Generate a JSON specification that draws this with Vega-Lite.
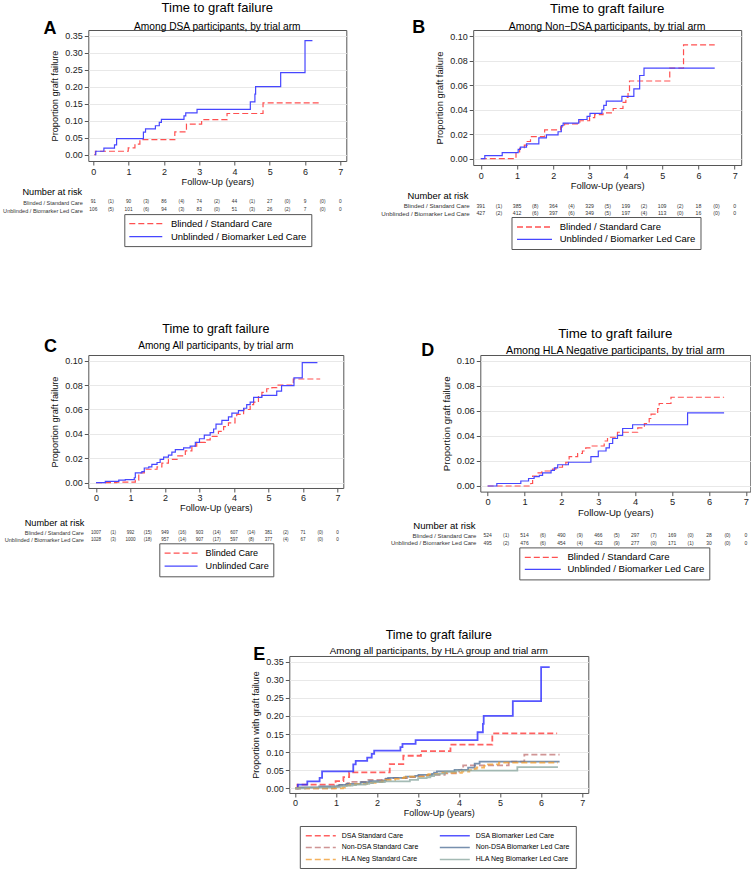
{
"$schema":"https://vega.github.io/schema/vega-lite/v6.json",
"padding":{"left":2.3,"top":1,"right":0,"bottom":0},
"background":"white",
"config":{"font":"Liberation Sans","view":{"stroke":"#555","strokeWidth":1},
"axis":{"labelColor":"#222","titleColor":"#111","titleFontWeight":"normal","tickColor":"#555","gridColor":"#e8e8e8","labelFont":"Liberation Sans","titleFont":"Liberation Sans","labelOverlap":false,"labelFlush":false},
"title":{"fontWeight":"normal","color":"#000","subtitleColor":"#000","font":"Liberation Sans","subtitleFont":"Liberation Sans"},
"legend":{"labelFont":"Liberation Sans","labelColor":"#000","labelLimit":400}},
"datasets":{
"dsa":[
{"arm":"Blinded / Standard Care","curve":"DSA Standard Care","t":0.03,"p":0},
{"arm":"Blinded / Standard Care","curve":"DSA Standard Care","t":0.06,"p":0.01},
{"arm":"Blinded / Standard Care","curve":"DSA Standard Care","t":0.99,"p":0.02},
{"arm":"Blinded / Standard Care","curve":"DSA Standard Care","t":1.18,"p":0.031},
{"arm":"Blinded / Standard Care","curve":"DSA Standard Care","t":1.32,"p":0.044},
{"arm":"Blinded / Standard Care","curve":"DSA Standard Care","t":2.31,"p":0.067},
{"arm":"Blinded / Standard Care","curve":"DSA Standard Care","t":2.64,"p":0.09},
{"arm":"Blinded / Standard Care","curve":"DSA Standard Care","t":3.07,"p":0.103},
{"arm":"Blinded / Standard Care","curve":"DSA Standard Care","t":3.79,"p":0.121},
{"arm":"Blinded / Standard Care","curve":"DSA Standard Care","t":4.81,"p":0.152},
{"arm":"Blinded / Standard Care","curve":"DSA Standard Care","t":6.39,"p":0.152},
{"arm":"Unblinded / Biomarker Led Care","curve":"DSA Biomarker Led Care","t":0.04,"p":0},
{"arm":"Unblinded / Biomarker Led Care","curve":"DSA Biomarker Led Care","t":0.07,"p":0.01},
{"arm":"Unblinded / Biomarker Led Care","curve":"DSA Biomarker Led Care","t":0.3,"p":0.019},
{"arm":"Unblinded / Biomarker Led Care","curve":"DSA Biomarker Led Care","t":0.6,"p":0.029},
{"arm":"Unblinded / Biomarker Led Care","curve":"DSA Biomarker Led Care","t":0.66,"p":0.047},
{"arm":"Unblinded / Biomarker Led Care","curve":"DSA Biomarker Led Care","t":1.42,"p":0.066},
{"arm":"Unblinded / Biomarker Led Care","curve":"DSA Biomarker Led Care","t":1.48,"p":0.076},
{"arm":"Unblinded / Biomarker Led Care","curve":"DSA Biomarker Led Care","t":1.76,"p":0.085},
{"arm":"Unblinded / Biomarker Led Care","curve":"DSA Biomarker Led Care","t":1.87,"p":0.095},
{"arm":"Unblinded / Biomarker Led Care","curve":"DSA Biomarker Led Care","t":1.93,"p":0.104},
{"arm":"Unblinded / Biomarker Led Care","curve":"DSA Biomarker Led Care","t":2.57,"p":0.114},
{"arm":"Unblinded / Biomarker Led Care","curve":"DSA Biomarker Led Care","t":2.62,"p":0.123},
{"arm":"Unblinded / Biomarker Led Care","curve":"DSA Biomarker Led Care","t":2.94,"p":0.133},
{"arm":"Unblinded / Biomarker Led Care","curve":"DSA Biomarker Led Care","t":4.45,"p":0.155},
{"arm":"Unblinded / Biomarker Led Care","curve":"DSA Biomarker Led Care","t":4.58,"p":0.178},
{"arm":"Unblinded / Biomarker Led Care","curve":"DSA Biomarker Led Care","t":4.6,"p":0.2},
{"arm":"Unblinded / Biomarker Led Care","curve":"DSA Biomarker Led Care","t":5.31,"p":0.241},
{"arm":"Unblinded / Biomarker Led Care","curve":"DSA Biomarker Led Care","t":6.0,"p":0.335},
{"arm":"Unblinded / Biomarker Led Care","curve":"DSA Biomarker Led Care","t":6.21,"p":0.335}],
"nondsa":[
{"arm":"Blinded / Standard Care","curve":"Non-DSA Standard Care","t":0,"p":0},
{"arm":"Blinded / Standard Care","curve":"Non-DSA Standard Care","t":0.97,"p":0.005},
{"arm":"Blinded / Standard Care","curve":"Non-DSA Standard Care","t":1.07,"p":0.0085},
{"arm":"Blinded / Standard Care","curve":"Non-DSA Standard Care","t":1.2,"p":0.011},
{"arm":"Blinded / Standard Care","curve":"Non-DSA Standard Care","t":1.28,"p":0.014},
{"arm":"Blinded / Standard Care","curve":"Non-DSA Standard Care","t":1.37,"p":0.018},
{"arm":"Blinded / Standard Care","curve":"Non-DSA Standard Care","t":1.76,"p":0.0235},
{"arm":"Blinded / Standard Care","curve":"Non-DSA Standard Care","t":2.2,"p":0.026},
{"arm":"Blinded / Standard Care","curve":"Non-DSA Standard Care","t":2.31,"p":0.0285},
{"arm":"Blinded / Standard Care","curve":"Non-DSA Standard Care","t":2.73,"p":0.031},
{"arm":"Blinded / Standard Care","curve":"Non-DSA Standard Care","t":3.0,"p":0.0335},
{"arm":"Blinded / Standard Care","curve":"Non-DSA Standard Care","t":3.14,"p":0.036},
{"arm":"Blinded / Standard Care","curve":"Non-DSA Standard Care","t":3.37,"p":0.0375},
{"arm":"Blinded / Standard Care","curve":"Non-DSA Standard Care","t":3.65,"p":0.041},
{"arm":"Blinded / Standard Care","curve":"Non-DSA Standard Care","t":3.92,"p":0.046},
{"arm":"Blinded / Standard Care","curve":"Non-DSA Standard Care","t":4.0,"p":0.05},
{"arm":"Blinded / Standard Care","curve":"Non-DSA Standard Care","t":4.06,"p":0.055},
{"arm":"Blinded / Standard Care","curve":"Non-DSA Standard Care","t":4.1,"p":0.0635},
{"arm":"Blinded / Standard Care","curve":"Non-DSA Standard Care","t":5.21,"p":0.074},
{"arm":"Blinded / Standard Care","curve":"Non-DSA Standard Care","t":5.59,"p":0.093},
{"arm":"Blinded / Standard Care","curve":"Non-DSA Standard Care","t":6.45,"p":0.093},
{"arm":"Unblinded / Biomarker Led Care","curve":"Non-DSA Biomarker Led Care","t":0,"p":0},
{"arm":"Unblinded / Biomarker Led Care","curve":"Non-DSA Biomarker Led Care","t":0.11,"p":0.0025},
{"arm":"Unblinded / Biomarker Led Care","curve":"Non-DSA Biomarker Led Care","t":0.59,"p":0.005},
{"arm":"Unblinded / Biomarker Led Care","curve":"Non-DSA Biomarker Led Care","t":1.03,"p":0.0075},
{"arm":"Unblinded / Biomarker Led Care","curve":"Non-DSA Biomarker Led Care","t":1.09,"p":0.0095},
{"arm":"Unblinded / Biomarker Led Care","curve":"Non-DSA Biomarker Led Care","t":1.26,"p":0.012},
{"arm":"Unblinded / Biomarker Led Care","curve":"Non-DSA Biomarker Led Care","t":1.6,"p":0.017},
{"arm":"Unblinded / Biomarker Led Care","curve":"Non-DSA Biomarker Led Care","t":1.81,"p":0.0195},
{"arm":"Unblinded / Biomarker Led Care","curve":"Non-DSA Biomarker Led Care","t":2.13,"p":0.022},
{"arm":"Unblinded / Biomarker Led Care","curve":"Non-DSA Biomarker Led Care","t":2.22,"p":0.027},
{"arm":"Unblinded / Biomarker Led Care","curve":"Non-DSA Biomarker Led Care","t":2.27,"p":0.029},
{"arm":"Unblinded / Biomarker Led Care","curve":"Non-DSA Biomarker Led Care","t":2.7,"p":0.032},
{"arm":"Unblinded / Biomarker Led Care","curve":"Non-DSA Biomarker Led Care","t":2.93,"p":0.0345},
{"arm":"Unblinded / Biomarker Led Care","curve":"Non-DSA Biomarker Led Care","t":3.01,"p":0.037},
{"arm":"Unblinded / Biomarker Led Care","curve":"Non-DSA Biomarker Led Care","t":3.34,"p":0.04},
{"arm":"Unblinded / Biomarker Led Care","curve":"Non-DSA Biomarker Led Care","t":3.39,"p":0.0435},
{"arm":"Unblinded / Biomarker Led Care","curve":"Non-DSA Biomarker Led Care","t":3.46,"p":0.047},
{"arm":"Unblinded / Biomarker Led Care","curve":"Non-DSA Biomarker Led Care","t":3.89,"p":0.051},
{"arm":"Unblinded / Biomarker Led Care","curve":"Non-DSA Biomarker Led Care","t":4.22,"p":0.057},
{"arm":"Unblinded / Biomarker Led Care","curve":"Non-DSA Biomarker Led Care","t":4.38,"p":0.068},
{"arm":"Unblinded / Biomarker Led Care","curve":"Non-DSA Biomarker Led Care","t":4.5,"p":0.074},
{"arm":"Unblinded / Biomarker Led Care","curve":"Non-DSA Biomarker Led Care","t":6.45,"p":0.074}],
"all":[
{"arm":"Blinded Care","t":0,"p":0},
{"arm":"Blinded Care","t":0.6,"p":0.0005},
{"arm":"Blinded Care","t":1.14,"p":0.002},
{"arm":"Blinded Care","t":1.24,"p":0.008},
{"arm":"Blinded Care","t":1.4,"p":0.011},
{"arm":"Blinded Care","t":1.77,"p":0.013},
{"arm":"Blinded Care","t":1.91,"p":0.016},
{"arm":"Blinded Care","t":2.1,"p":0.019},
{"arm":"Blinded Care","t":2.35,"p":0.022},
{"arm":"Blinded Care","t":2.59,"p":0.026},
{"arm":"Blinded Care","t":2.78,"p":0.03},
{"arm":"Blinded Care","t":2.92,"p":0.033},
{"arm":"Blinded Care","t":3.17,"p":0.035},
{"arm":"Blinded Care","t":3.31,"p":0.038},
{"arm":"Blinded Care","t":3.55,"p":0.042},
{"arm":"Blinded Care","t":3.7,"p":0.046},
{"arm":"Blinded Care","t":3.84,"p":0.049},
{"arm":"Blinded Care","t":4.03,"p":0.053},
{"arm":"Blinded Care","t":4.08,"p":0.056},
{"arm":"Blinded Care","t":4.28,"p":0.06},
{"arm":"Blinded Care","t":4.47,"p":0.064},
{"arm":"Blinded Care","t":4.57,"p":0.066},
{"arm":"Blinded Care","t":4.71,"p":0.0705},
{"arm":"Blinded Care","t":4.81,"p":0.074},
{"arm":"Blinded Care","t":4.95,"p":0.077},
{"arm":"Blinded Care","t":5.1,"p":0.078},
{"arm":"Blinded Care","t":5.24,"p":0.08},
{"arm":"Blinded Care","t":5.72,"p":0.085},
{"arm":"Blinded Care","t":6.5,"p":0.085},
{"arm":"Unblinded Care","t":0,"p":0},
{"arm":"Unblinded Care","t":0.27,"p":0.001},
{"arm":"Unblinded Care","t":0.66,"p":0.002},
{"arm":"Unblinded Care","t":0.85,"p":0.0025},
{"arm":"Unblinded Care","t":1.11,"p":0.004},
{"arm":"Unblinded Care","t":1.14,"p":0.008},
{"arm":"Unblinded Care","t":1.33,"p":0.009},
{"arm":"Unblinded Care","t":1.4,"p":0.012},
{"arm":"Unblinded Care","t":1.53,"p":0.013},
{"arm":"Unblinded Care","t":1.62,"p":0.015},
{"arm":"Unblinded Care","t":1.77,"p":0.0165},
{"arm":"Unblinded Care","t":1.86,"p":0.019},
{"arm":"Unblinded Care","t":1.96,"p":0.021},
{"arm":"Unblinded Care","t":2.1,"p":0.0225},
{"arm":"Unblinded Care","t":2.2,"p":0.025},
{"arm":"Unblinded Care","t":2.3,"p":0.027},
{"arm":"Unblinded Care","t":2.54,"p":0.0285},
{"arm":"Unblinded Care","t":2.73,"p":0.03},
{"arm":"Unblinded Care","t":2.88,"p":0.033},
{"arm":"Unblinded Care","t":3.0,"p":0.036},
{"arm":"Unblinded Care","t":3.14,"p":0.039},
{"arm":"Unblinded Care","t":3.31,"p":0.041},
{"arm":"Unblinded Care","t":3.41,"p":0.044},
{"arm":"Unblinded Care","t":3.48,"p":0.048},
{"arm":"Unblinded Care","t":3.65,"p":0.051},
{"arm":"Unblinded Care","t":3.84,"p":0.054},
{"arm":"Unblinded Care","t":3.94,"p":0.057},
{"arm":"Unblinded Care","t":4.13,"p":0.059},
{"arm":"Unblinded Care","t":4.28,"p":0.061},
{"arm":"Unblinded Care","t":4.37,"p":0.064},
{"arm":"Unblinded Care","t":4.47,"p":0.066},
{"arm":"Unblinded Care","t":4.57,"p":0.07},
{"arm":"Unblinded Care","t":4.81,"p":0.0715},
{"arm":"Unblinded Care","t":5.24,"p":0.075},
{"arm":"Unblinded Care","t":5.38,"p":0.0795},
{"arm":"Unblinded Care","t":5.74,"p":0.086},
{"arm":"Unblinded Care","t":5.98,"p":0.0985},
{"arm":"Unblinded Care","t":6.42,"p":0.0985}],
"hla":[
{"arm":"Blinded / Standard Care","curve":"HLA Neg Standard Care","t":0,"p":0},
{"arm":"Blinded / Standard Care","curve":"HLA Neg Standard Care","t":1.17,"p":0.002},
{"arm":"Blinded / Standard Care","curve":"HLA Neg Standard Care","t":1.22,"p":0.008},
{"arm":"Blinded / Standard Care","curve":"HLA Neg Standard Care","t":1.34,"p":0.0105},
{"arm":"Blinded / Standard Care","curve":"HLA Neg Standard Care","t":1.47,"p":0.012},
{"arm":"Blinded / Standard Care","curve":"HLA Neg Standard Care","t":1.76,"p":0.0135},
{"arm":"Blinded / Standard Care","curve":"HLA Neg Standard Care","t":1.85,"p":0.015},
{"arm":"Blinded / Standard Care","curve":"HLA Neg Standard Care","t":2.03,"p":0.017},
{"arm":"Blinded / Standard Care","curve":"HLA Neg Standard Care","t":2.12,"p":0.019},
{"arm":"Blinded / Standard Care","curve":"HLA Neg Standard Care","t":2.21,"p":0.0235},
{"arm":"Blinded / Standard Care","curve":"HLA Neg Standard Care","t":2.44,"p":0.026},
{"arm":"Blinded / Standard Care","curve":"HLA Neg Standard Care","t":2.57,"p":0.028},
{"arm":"Blinded / Standard Care","curve":"HLA Neg Standard Care","t":2.66,"p":0.0305},
{"arm":"Blinded / Standard Care","curve":"HLA Neg Standard Care","t":2.8,"p":0.032},
{"arm":"Blinded / Standard Care","curve":"HLA Neg Standard Care","t":3.16,"p":0.036},
{"arm":"Blinded / Standard Care","curve":"HLA Neg Standard Care","t":3.25,"p":0.039},
{"arm":"Blinded / Standard Care","curve":"HLA Neg Standard Care","t":3.52,"p":0.043},
{"arm":"Blinded / Standard Care","curve":"HLA Neg Standard Care","t":4.07,"p":0.0465},
{"arm":"Blinded / Standard Care","curve":"HLA Neg Standard Care","t":4.25,"p":0.05},
{"arm":"Blinded / Standard Care","curve":"HLA Neg Standard Care","t":4.38,"p":0.054},
{"arm":"Blinded / Standard Care","curve":"HLA Neg Standard Care","t":4.43,"p":0.0575},
{"arm":"Blinded / Standard Care","curve":"HLA Neg Standard Care","t":4.61,"p":0.062},
{"arm":"Blinded / Standard Care","curve":"HLA Neg Standard Care","t":4.65,"p":0.066},
{"arm":"Blinded / Standard Care","curve":"HLA Neg Standard Care","t":4.97,"p":0.071},
{"arm":"Blinded / Standard Care","curve":"HLA Neg Standard Care","t":6.41,"p":0.071},
{"arm":"Unblinded / Biomarker Led Care","curve":"HLA Neg Biomarker Led Care","t":0,"p":0},
{"arm":"Unblinded / Biomarker Led Care","curve":"HLA Neg Biomarker Led Care","t":0.25,"p":0.002},
{"arm":"Unblinded / Biomarker Led Care","curve":"HLA Neg Biomarker Led Care","t":0.9,"p":0.004},
{"arm":"Unblinded / Biomarker Led Care","curve":"HLA Neg Biomarker Led Care","t":1.11,"p":0.006},
{"arm":"Unblinded / Biomarker Led Care","curve":"HLA Neg Biomarker Led Care","t":1.26,"p":0.0075},
{"arm":"Unblinded / Biomarker Led Care","curve":"HLA Neg Biomarker Led Care","t":1.4,"p":0.0085},
{"arm":"Unblinded / Biomarker Led Care","curve":"HLA Neg Biomarker Led Care","t":1.49,"p":0.0105},
{"arm":"Unblinded / Biomarker Led Care","curve":"HLA Neg Biomarker Led Care","t":1.72,"p":0.0125},
{"arm":"Unblinded / Biomarker Led Care","curve":"HLA Neg Biomarker Led Care","t":1.81,"p":0.0145},
{"arm":"Unblinded / Biomarker Led Care","curve":"HLA Neg Biomarker Led Care","t":1.9,"p":0.017},
{"arm":"Unblinded / Biomarker Led Care","curve":"HLA Neg Biomarker Led Care","t":2.19,"p":0.019},
{"arm":"Unblinded / Biomarker Led Care","curve":"HLA Neg Biomarker Led Care","t":2.8,"p":0.0235},
{"arm":"Unblinded / Biomarker Led Care","curve":"HLA Neg Biomarker Led Care","t":3.0,"p":0.028},
{"arm":"Unblinded / Biomarker Led Care","curve":"HLA Neg Biomarker Led Care","t":3.21,"p":0.0305},
{"arm":"Unblinded / Biomarker Led Care","curve":"HLA Neg Biomarker Led Care","t":3.3,"p":0.034},
{"arm":"Unblinded / Biomarker Led Care","curve":"HLA Neg Biomarker Led Care","t":3.39,"p":0.038},
{"arm":"Unblinded / Biomarker Led Care","curve":"HLA Neg Biomarker Led Care","t":3.52,"p":0.0405},
{"arm":"Unblinded / Biomarker Led Care","curve":"HLA Neg Biomarker Led Care","t":3.66,"p":0.046},
{"arm":"Unblinded / Biomarker Led Care","curve":"HLA Neg Biomarker Led Care","t":3.93,"p":0.049},
{"arm":"Unblinded / Biomarker Led Care","curve":"HLA Neg Biomarker Led Care","t":5.42,"p":0.0585},
{"arm":"Unblinded / Biomarker Led Care","curve":"HLA Neg Biomarker Led Care","t":6.41,"p":0.0585}],
"tA":[
{"row":"Blinded / Standard Care","t":0,"n":"91"},{"row":"Blinded / Standard Care","t":0.5,"n":"(1)"},{"row":"Blinded / Standard Care","t":1,"n":"90"},{"row":"Blinded / Standard Care","t":1.5,"n":"(3)"},{"row":"Blinded / Standard Care","t":2,"n":"86"},{"row":"Blinded / Standard Care","t":2.5,"n":"(4)"},{"row":"Blinded / Standard Care","t":3,"n":"74"},{"row":"Blinded / Standard Care","t":3.5,"n":"(2)"},{"row":"Blinded / Standard Care","t":4,"n":"44"},{"row":"Blinded / Standard Care","t":4.5,"n":"(1)"},{"row":"Blinded / Standard Care","t":5,"n":"27"},{"row":"Blinded / Standard Care","t":5.5,"n":"(0)"},{"row":"Blinded / Standard Care","t":6,"n":"9"},{"row":"Blinded / Standard Care","t":6.5,"n":"(0)"},{"row":"Blinded / Standard Care","t":7,"n":"0"},
{"row":"Unblinded / Biomarker Led Care","t":0,"n":"106"},{"row":"Unblinded / Biomarker Led Care","t":0.5,"n":"(5)"},{"row":"Unblinded / Biomarker Led Care","t":1,"n":"101"},{"row":"Unblinded / Biomarker Led Care","t":1.5,"n":"(6)"},{"row":"Unblinded / Biomarker Led Care","t":2,"n":"94"},{"row":"Unblinded / Biomarker Led Care","t":2.5,"n":"(3)"},{"row":"Unblinded / Biomarker Led Care","t":3,"n":"83"},{"row":"Unblinded / Biomarker Led Care","t":3.5,"n":"(0)"},{"row":"Unblinded / Biomarker Led Care","t":4,"n":"51"},{"row":"Unblinded / Biomarker Led Care","t":4.5,"n":"(3)"},{"row":"Unblinded / Biomarker Led Care","t":5,"n":"26"},{"row":"Unblinded / Biomarker Led Care","t":5.5,"n":"(2)"},{"row":"Unblinded / Biomarker Led Care","t":6,"n":"7"},{"row":"Unblinded / Biomarker Led Care","t":6.5,"n":"(0)"},{"row":"Unblinded / Biomarker Led Care","t":7,"n":"0"}],
"tB":[
{"row":"Blinded / Standard Care","t":0,"n":"391"},{"row":"Blinded / Standard Care","t":0.5,"n":"(1)"},{"row":"Blinded / Standard Care","t":1,"n":"385"},{"row":"Blinded / Standard Care","t":1.5,"n":"(8)"},{"row":"Blinded / Standard Care","t":2,"n":"364"},{"row":"Blinded / Standard Care","t":2.5,"n":"(4)"},{"row":"Blinded / Standard Care","t":3,"n":"329"},{"row":"Blinded / Standard Care","t":3.5,"n":"(5)"},{"row":"Blinded / Standard Care","t":4,"n":"199"},{"row":"Blinded / Standard Care","t":4.5,"n":"(2)"},{"row":"Blinded / Standard Care","t":5,"n":"109"},{"row":"Blinded / Standard Care","t":5.5,"n":"(2)"},{"row":"Blinded / Standard Care","t":6,"n":"18"},{"row":"Blinded / Standard Care","t":6.5,"n":"(0)"},{"row":"Blinded / Standard Care","t":7,"n":"0"},
{"row":"Unblinded / Biomarker Led Care","t":0,"n":"427"},{"row":"Unblinded / Biomarker Led Care","t":0.5,"n":"(2)"},{"row":"Unblinded / Biomarker Led Care","t":1,"n":"412"},{"row":"Unblinded / Biomarker Led Care","t":1.5,"n":"(6)"},{"row":"Unblinded / Biomarker Led Care","t":2,"n":"397"},{"row":"Unblinded / Biomarker Led Care","t":2.5,"n":"(6)"},{"row":"Unblinded / Biomarker Led Care","t":3,"n":"349"},{"row":"Unblinded / Biomarker Led Care","t":3.5,"n":"(5)"},{"row":"Unblinded / Biomarker Led Care","t":4,"n":"197"},{"row":"Unblinded / Biomarker Led Care","t":4.5,"n":"(4)"},{"row":"Unblinded / Biomarker Led Care","t":5,"n":"113"},{"row":"Unblinded / Biomarker Led Care","t":5.5,"n":"(0)"},{"row":"Unblinded / Biomarker Led Care","t":6,"n":"16"},{"row":"Unblinded / Biomarker Led Care","t":6.5,"n":"(0)"},{"row":"Unblinded / Biomarker Led Care","t":7,"n":"0"}],
"tC":[
{"row":"Blinded / Standard Care","t":0,"n":"1007"},{"row":"Blinded / Standard Care","t":0.5,"n":"(1)"},{"row":"Blinded / Standard Care","t":1,"n":"992"},{"row":"Blinded / Standard Care","t":1.5,"n":"(15)"},{"row":"Blinded / Standard Care","t":2,"n":"949"},{"row":"Blinded / Standard Care","t":2.5,"n":"(16)"},{"row":"Blinded / Standard Care","t":3,"n":"903"},{"row":"Blinded / Standard Care","t":3.5,"n":"(14)"},{"row":"Blinded / Standard Care","t":4,"n":"607"},{"row":"Blinded / Standard Care","t":4.5,"n":"(14)"},{"row":"Blinded / Standard Care","t":5,"n":"381"},{"row":"Blinded / Standard Care","t":5.5,"n":"(2)"},{"row":"Blinded / Standard Care","t":6,"n":"71"},{"row":"Blinded / Standard Care","t":6.5,"n":"(0)"},{"row":"Blinded / Standard Care","t":7,"n":"0"},
{"row":"Unblinded / Biomarker Led Care","t":0,"n":"1028"},{"row":"Unblinded / Biomarker Led Care","t":0.5,"n":"(3)"},{"row":"Unblinded / Biomarker Led Care","t":1,"n":"1000"},{"row":"Unblinded / Biomarker Led Care","t":1.5,"n":"(18)"},{"row":"Unblinded / Biomarker Led Care","t":2,"n":"957"},{"row":"Unblinded / Biomarker Led Care","t":2.5,"n":"(14)"},{"row":"Unblinded / Biomarker Led Care","t":3,"n":"907"},{"row":"Unblinded / Biomarker Led Care","t":3.5,"n":"(17)"},{"row":"Unblinded / Biomarker Led Care","t":4,"n":"597"},{"row":"Unblinded / Biomarker Led Care","t":4.5,"n":"(8)"},{"row":"Unblinded / Biomarker Led Care","t":5,"n":"377"},{"row":"Unblinded / Biomarker Led Care","t":5.5,"n":"(4)"},{"row":"Unblinded / Biomarker Led Care","t":6,"n":"67"},{"row":"Unblinded / Biomarker Led Care","t":6.5,"n":"(0)"},{"row":"Unblinded / Biomarker Led Care","t":7,"n":"0"}],
"tD":[
{"row":"Blinded / Standard Care","t":0,"n":"524"},{"row":"Blinded / Standard Care","t":0.5,"n":"(1)"},{"row":"Blinded / Standard Care","t":1,"n":"514"},{"row":"Blinded / Standard Care","t":1.5,"n":"(6)"},{"row":"Blinded / Standard Care","t":2,"n":"490"},{"row":"Blinded / Standard Care","t":2.5,"n":"(9)"},{"row":"Blinded / Standard Care","t":3,"n":"466"},{"row":"Blinded / Standard Care","t":3.5,"n":"(5)"},{"row":"Blinded / Standard Care","t":4,"n":"297"},{"row":"Blinded / Standard Care","t":4.5,"n":"(7)"},{"row":"Blinded / Standard Care","t":5,"n":"169"},{"row":"Blinded / Standard Care","t":5.5,"n":"(0)"},{"row":"Blinded / Standard Care","t":6,"n":"28"},{"row":"Blinded / Standard Care","t":6.5,"n":"(0)"},{"row":"Blinded / Standard Care","t":7,"n":"0"},
{"row":"Unblinded / Biomarker Led Care","t":0,"n":"495"},{"row":"Unblinded / Biomarker Led Care","t":0.5,"n":"(2)"},{"row":"Unblinded / Biomarker Led Care","t":1,"n":"476"},{"row":"Unblinded / Biomarker Led Care","t":1.5,"n":"(6)"},{"row":"Unblinded / Biomarker Led Care","t":2,"n":"454"},{"row":"Unblinded / Biomarker Led Care","t":2.5,"n":"(4)"},{"row":"Unblinded / Biomarker Led Care","t":3,"n":"433"},{"row":"Unblinded / Biomarker Led Care","t":3.5,"n":"(9)"},{"row":"Unblinded / Biomarker Led Care","t":4,"n":"277"},{"row":"Unblinded / Biomarker Led Care","t":4.5,"n":"(0)"},{"row":"Unblinded / Biomarker Led Care","t":5,"n":"171"},{"row":"Unblinded / Biomarker Led Care","t":5.5,"n":"(1)"},{"row":"Unblinded / Biomarker Led Care","t":6,"n":"30"},{"row":"Unblinded / Biomarker Led Care","t":6.5,"n":"(0)"},{"row":"Unblinded / Biomarker Led Care","t":7,"n":"0"}]
},
"resolve":{"scale":{"color":"independent","strokeDash":"independent"},"legend":{"color":"independent","strokeDash":"independent"}},
"spacing":48,"center":false,
"vconcat":[
{"spacing":72,"center":false,
"resolve":{"scale":{"color":"independent","strokeDash":"independent"},"legend":{"color":"independent","strokeDash":"independent"}},
"vconcat":[
{"hconcat":[
{"title":{"text":"A","anchor":"start","frame":"bounds","fontSize":18,"fontWeight":"bold","dx":41,"dy":49.7,"offset":0,"baseline":"alphabetic"},
"spacing":37,"bounds":"flush",
"resolve":{"scale":{"color":"independent","strokeDash":"independent"},"legend":{"color":"independent","strokeDash":"independent"}},
"vconcat":[
{"width":258,"height":131,
"title":{"text":"Time to graft failure","subtitle":"Among DSA participants, by trial arm","fontSize":13,"subtitleFontSize":10.2,"subtitlePadding":6.5,"offset":-2},
"data":{"name":"dsa"},
"mark":{"type":"line","interpolate":"step-after","strokeWidth":1.2},
"encoding":{
"x":{"field":"t","type":"quantitative","scale":{"domain":[-0.142,7.17],"nice":false,"zero":false},"axis":{"values":[0,1,2,3,4,5,6,7],"title":"Follow-Up (years)","grid":false,"domain":false,"tickSize":4,"labelPadding":2,"titlePadding":1,"labelFontSize":9,"titleFontSize":9.2}},
"y":{"field":"p","type":"quantitative","scale":{"domain":[-0.0186,0.3665],"nice":false,"zero":false},"axis":{"values":[0,0.05,0.1,0.15,0.2,0.25,0.3,0.35],"format":".2f","title":"Proportion graft failure","grid":true,"domain":false,"tickSize":4,"labelPadding":2,"titlePadding":5,"labelFontSize":9,"titleFontSize":9.2}},
"color":{"field":"arm","type":"nominal","scale":{"domain":["Blinded / Standard Care","Unblinded / Biomarker Led Care"],"range":["#ff5050","#4646ff"]},"legend":null},
"strokeDash":{"field":"arm","type":"nominal","scale":{"domain":["Blinded / Standard Care","Unblinded / Biomarker Led Care"],"range":[[6,3],[1,0]]},"legend":null}}},
{"width":258,"height":16,"view":{"stroke":null},
"title":{"text":"Number at risk","anchor":"start","frame":"bounds","fontSize":9.2,"dx":20,"offset":1},
"layer":[
{"data":{"name":"tA"},"mark":{"type":"text","fontSize":4.8,"color":"#333"},
"encoding":{"x":{"field":"t","type":"quantitative","scale":{"domain":[-0.142,7.17],"nice":false,"zero":false},"axis":null},
"y":{"field":"row","type":"nominal","scale":{"domain":["Blinded / Standard Care","Unblinded / Biomarker Led Care"]},"axis":{"title":null,"domain":false,"ticks":false,"labelPadding":6,"labelFontSize":5.6,"labelColor":"#333"}},
"text":{"field":"n"}}},
{"data":{"name":"dsa"},"mark":{"type":"rule","opacity":0},
"encoding":{"x":{"field":"t","type":"quantitative"},
"color":{"field":"arm","type":"nominal","scale":{"domain":["Blinded / Standard Care","Unblinded / Biomarker Led Care"],"range":["#ff5050","#4646ff"]},"legend":{"title":null,"orient":"none","legendX":36,"legendY":16.1,"strokeColor":"#555","padding":4,"labelFontSize":9.5,"symbolType":"M-1,0H6.33","symbolSize":81,"symbolStrokeWidth":1.3,"labelOffset":31.6,"rowPadding":3.1}},
"strokeDash":{"field":"arm","type":"nominal","scale":{"domain":["Blinded / Standard Care","Unblinded / Biomarker Led Care"],"range":[[6,3],[1,0]]},"legend":{"title":null,"orient":"none","legendX":36,"legendY":16.1,"strokeColor":"#555","padding":4,"labelFontSize":9.5,"symbolType":"M-1,0H6.33","symbolSize":81,"symbolStrokeWidth":1.3,"labelOffset":31.6,"rowPadding":3.1}}}}]}]},
{"title":{"text":"B","anchor":"start","frame":"bounds","fontSize":18,"fontWeight":"bold","dx":31.5,"dy":49.7,"offset":0,"baseline":"alphabetic"},
"spacing":37,"bounds":"flush",
"resolve":{"scale":{"color":"independent","strokeDash":"independent"},"legend":{"color":"independent","strokeDash":"independent"}},
"vconcat":[
{"width":268,"height":135,
"title":{"text":"Time to graft failure","subtitle":"Among Non−DSA participants, by trial arm","fontSize":13.35,"subtitleFontSize":10.5,"subtitlePadding":6.5,"offset":-2},
"data":{"name":"nondsa"},
"mark":{"type":"line","interpolate":"step-after","strokeWidth":1.2},
"encoding":{
"x":{"field":"t","type":"quantitative","scale":{"domain":[-0.21,7.18],"nice":false,"zero":false},"axis":{"values":[0,1,2,3,4,5,6,7],"title":"Follow-Up (years)","grid":false,"domain":false,"tickSize":4,"labelPadding":2,"titlePadding":1,"labelFontSize":9,"titleFontSize":9.4}},
"y":{"field":"p","type":"quantitative","scale":{"domain":[-0.0052,0.1052],"nice":false,"zero":false},"axis":{"values":[0,0.02,0.04,0.06,0.08,0.1],"format":".2f","title":"Proportion graft failure","grid":true,"domain":false,"tickSize":4,"labelPadding":2,"titlePadding":5,"labelFontSize":9,"titleFontSize":9.4}},
"color":{"field":"arm","type":"nominal","scale":{"domain":["Blinded / Standard Care","Unblinded / Biomarker Led Care"],"range":["#ff5050","#4646ff"]},"legend":null},
"strokeDash":{"field":"arm","type":"nominal","scale":{"domain":["Blinded / Standard Care","Unblinded / Biomarker Led Care"],"range":[[6,3],[1,0]]},"legend":null}}},
{"width":268,"height":15,"view":{"stroke":null},
"title":{"text":"Number at risk","anchor":"start","frame":"bounds","fontSize":9.4,"dx":26.7,"offset":1},
"layer":[
{"data":{"name":"tB"},"mark":{"type":"text","fontSize":5.2,"color":"#333"},
"encoding":{"x":{"field":"t","type":"quantitative","scale":{"domain":[-0.21,7.18],"nice":false,"zero":false},"axis":null},
"y":{"field":"row","type":"nominal","scale":{"domain":["Blinded / Standard Care","Unblinded / Biomarker Led Care"]},"axis":{"title":null,"domain":false,"ticks":false,"labelPadding":4,"labelFontSize":6.2,"labelColor":"#333"}},
"text":{"field":"n"}}},
{"data":{"name":"nondsa"},"mark":{"type":"rule","opacity":0},
"encoding":{"x":{"field":"t","type":"quantitative"},
"color":{"field":"arm","type":"nominal","scale":{"domain":["Blinded / Standard Care","Unblinded / Biomarker Led Care"],"range":["#ff5050","#4646ff"]},"legend":{"title":null,"orient":"none","legendX":38.3,"legendY":15,"strokeColor":"#555","padding":4.5,"labelFontSize":9.5,"symbolType":"M-1,0H6.78","symbolSize":81,"symbolStrokeWidth":1.3,"labelOffset":32.7,"rowPadding":2.3}},
"strokeDash":{"field":"arm","type":"nominal","scale":{"domain":["Blinded / Standard Care","Unblinded / Biomarker Led Care"],"range":[[6,3],[1,0]]},"legend":{"title":null,"orient":"none","legendX":38.3,"legendY":15,"strokeColor":"#555","padding":4.5,"labelFontSize":9.5,"symbolType":"M-1,0H6.78","symbolSize":81,"symbolStrokeWidth":1.3,"labelOffset":32.7,"rowPadding":2.3}}}}]}]}
],"spacing":32.9,
"resolve":{"scale":{"color":"independent","strokeDash":"independent"},"legend":{"color":"independent","strokeDash":"independent"}}},
{"hconcat":[
{"title":{"text":"C","anchor":"start","frame":"bounds","fontSize":18,"fontWeight":"bold","dx":40,"dy":47.3,"offset":0,"baseline":"alphabetic"},
"spacing":41.1,"bounds":"flush",
"resolve":{"scale":{"color":"independent","strokeDash":"independent"},"legend":{"color":"independent","strokeDash":"independent"}},
"vconcat":[
{"width":255,"height":133,
"title":{"text":"Time to graft failure","subtitle":"Among All participants, by trial arm","fontSize":12.5,"subtitleFontSize":10.1,"subtitlePadding":5.5,"offset":4},
"data":{"name":"all"},
"mark":{"type":"line","interpolate":"step-after","strokeWidth":1.2},
"encoding":{
"x":{"field":"t","type":"quantitative","scale":{"domain":[-0.223,7.17],"nice":false,"zero":false},"axis":{"values":[0,1,2,3,4,5,6,7],"title":"Follow-Up (years)","grid":false,"domain":false,"tickSize":4,"labelPadding":2,"titlePadding":1,"labelFontSize":9,"titleFontSize":9.2}},
"y":{"field":"p","type":"quantitative","scale":{"domain":[-0.0044,0.1047],"nice":false,"zero":false},"axis":{"values":[0,0.02,0.04,0.06,0.08,0.1],"format":".2f","title":"Proportion graft failure","grid":true,"domain":false,"tickSize":4,"labelPadding":2,"titlePadding":5,"labelFontSize":9,"titleFontSize":9.2}},
"color":{"field":"arm","type":"nominal","scale":{"domain":["Blinded Care","Unblinded Care"],"range":["#ff5050","#4646ff"]},"legend":null},
"strokeDash":{"field":"arm","type":"nominal","scale":{"domain":["Blinded Care","Unblinded Care"],"range":[[6,3],[1,0]]},"legend":null}}},
{"width":255,"height":14,"view":{"stroke":null},
"title":{"text":"Number at risk","anchor":"start","frame":"bounds","fontSize":9.2,"dx":20.6,"offset":1},
"layer":[
{"data":{"name":"tC"},"mark":{"type":"text","fontSize":4.6,"color":"#333"},
"encoding":{"x":{"field":"t","type":"quantitative","scale":{"domain":[-0.223,7.17],"nice":false,"zero":false},"axis":null},
"y":{"field":"row","type":"nominal","scale":{"domain":["Blinded / Standard Care","Unblinded / Biomarker Led Care"]},"axis":{"title":null,"domain":false,"ticks":false,"labelPadding":5,"labelFontSize":5.55,"labelColor":"#333"}},
"text":{"field":"n"}}},
{"data":{"name":"all"},"mark":{"type":"rule","opacity":0},
"encoding":{"x":{"field":"t","type":"quantitative"},
"color":{"field":"arm","type":"nominal","scale":{"domain":["Blinded Care","Unblinded Care"],"range":["#ff5050","#4646ff"]},"legend":{"title":null,"orient":"none","legendX":71,"legendY":14.2,"strokeColor":"#555","padding":4.3,"labelFontSize":9.1,"symbolType":"M-1,0H6.33","symbolSize":81,"symbolStrokeWidth":1.3,"labelOffset":31,"rowPadding":2}},
"strokeDash":{"field":"arm","type":"nominal","scale":{"domain":["Blinded Care","Unblinded Care"],"range":[[6,3],[1,0]]},"legend":{"title":null,"orient":"none","legendX":71,"legendY":14.2,"strokeColor":"#555","padding":4.3,"labelFontSize":9.1,"symbolType":"M-1,0H6.33","symbolSize":81,"symbolStrokeWidth":1.3,"labelOffset":31,"rowPadding":2}}}}]}]},
{"title":{"text":"D","anchor":"start","frame":"bounds","fontSize":18,"fontWeight":"bold","dx":31,"dy":47.3,"offset":0,"baseline":"alphabetic"},
"spacing":39.4,"bounds":"flush",
"resolve":{"scale":{"color":"independent","strokeDash":"independent"},"legend":{"color":"independent","strokeDash":"independent"}},
"vconcat":[
{"width":270,"height":136.6,
"title":{"text":"Time to graft failure","subtitle":"Among HLA Negative participants, by trial arm","fontSize":13.35,"subtitleFontSize":10.7,"subtitlePadding":5.5,"offset":-1},
"data":{"name":"hla"},
"mark":{"type":"line","interpolate":"step-after","strokeWidth":1.2},
"encoding":{
"x":{"field":"t","type":"quantitative","scale":{"domain":[-0.198,7.12],"nice":false,"zero":false},"axis":{"values":[0,1,2,3,4,5,6,7],"title":"Follow-Up (years)","grid":false,"domain":false,"tickSize":4,"labelPadding":2,"titlePadding":1,"labelFontSize":9.3,"titleFontSize":9.6}},
"y":{"field":"p","type":"quantitative","scale":{"domain":[-0.0045,0.1048],"nice":false,"zero":false},"axis":{"values":[0,0.02,0.04,0.06,0.08,0.1],"format":".2f","title":"Proportion graft failure","grid":true,"domain":false,"tickSize":4,"labelPadding":2,"titlePadding":5,"labelFontSize":9.3,"titleFontSize":9.6}},
"color":{"field":"arm","type":"nominal","scale":{"domain":["Blinded / Standard Care","Unblinded / Biomarker Led Care"],"range":["#ff5050","#4646ff"]},"legend":null},
"strokeDash":{"field":"arm","type":"nominal","scale":{"domain":["Blinded / Standard Care","Unblinded / Biomarker Led Care"],"range":[[6,3],[1,0]]},"legend":null}}},
{"width":270,"height":15,"view":{"stroke":null},
"title":{"text":"Number at risk","anchor":"start","frame":"bounds","fontSize":9.6,"dx":23.1,"offset":1},
"layer":[
{"data":{"name":"tD"},"mark":{"type":"text","fontSize":5,"color":"#333"},
"encoding":{"x":{"field":"t","type":"quantitative","scale":{"domain":[-0.198,7.12],"nice":false,"zero":false},"axis":null},
"y":{"field":"row","type":"nominal","scale":{"domain":["Blinded / Standard Care","Unblinded / Biomarker Led Care"]},"axis":{"title":null,"domain":false,"ticks":false,"labelPadding":4.4,"labelFontSize":6,"labelColor":"#333"}},
"text":{"field":"n"}}},
{"data":{"name":"hla"},"mark":{"type":"rule","opacity":0},
"encoding":{"x":{"field":"t","type":"quantitative"},
"color":{"field":"arm","type":"nominal","scale":{"domain":["Blinded / Standard Care","Unblinded / Biomarker Led Care"],"range":["#ff5050","#4646ff"]},"legend":{"title":null,"orient":"none","legendX":39,"legendY":16,"strokeColor":"#555","padding":4.5,"labelFontSize":9.6,"symbolType":"M-1,0H7","symbolSize":81,"symbolStrokeWidth":1.3,"labelOffset":32.6,"rowPadding":1}},
"strokeDash":{"field":"arm","type":"nominal","scale":{"domain":["Blinded / Standard Care","Unblinded / Biomarker Led Care"],"range":[[6,3],[1,0]]},"legend":{"title":null,"orient":"none","legendX":39,"legendY":16,"strokeColor":"#555","padding":4.5,"labelFontSize":9.6,"symbolType":"M-1,0H7","symbolSize":81,"symbolStrokeWidth":1.3,"labelOffset":32.6,"rowPadding":1}}}}]}]}
],"spacing":45,
"resolve":{"scale":{"color":"independent","strokeDash":"independent"},"legend":{"color":"independent","strokeDash":"independent"}}}
]},
{"hconcat":[
{"width":152,"height":10,"view":{"stroke":null},"data":{"values":[{}]},"mark":{"type":"text"},"encoding":{"text":{"value":""}}},
{"title":{"text":"E","anchor":"start","frame":"bounds","fontSize":18,"fontWeight":"bold","dx":2,"dy":50,"offset":0,"baseline":"alphabetic"},
"resolve":{"scale":{"color":"independent","strokeDash":"independent"},"legend":{"color":"independent","strokeDash":"independent"}},
"vconcat":[
{"width":299,"height":137,
"title":{"text":"Time to graft failure","subtitle":"Among all participants, by HLA group and trial arm","fontSize":12.4,"subtitleFontSize":9.8,"subtitlePadding":5,"offset":0},
"encoding":{
"x":{"field":"t","type":"quantitative","scale":{"domain":[-0.139,7.15],"nice":false,"zero":false},"axis":{"values":[0,1,2,3,4,5,6,7],"title":"Follow-Up (years)","grid":false,"domain":false,"tickSize":4,"labelPadding":2,"titlePadding":1,"labelFontSize":9,"titleFontSize":9}},
"y":{"field":"p","type":"quantitative","scale":{"domain":[-0.013,0.3658],"nice":false,"zero":false},"axis":{"values":[0,0.05,0.1,0.15,0.2,0.25,0.3,0.35],"format":".2f","title":"Proportion with graft failure","grid":true,"domain":false,"tickSize":4,"labelPadding":2,"titlePadding":5,"labelFontSize":9,"titleFontSize":9}},
"color":{"field":"curve","type":"nominal","scale":{"domain":["DSA Standard Care","Non-DSA Standard Care","HLA Neg Standard Care","DSA Biomarker Led Care","Non-DSA Biomarker Led Care","HLA Neg Biomarker Led Care"],"range":["#ff3a3a","#c47a7a","#f2a035","#2c2cff","#56759a","#8eaaa2"]},"legend":{"title":null,"orient":"none","legendX":10.5,"legendY":170,"columns":2,"columnPadding":17,"strokeColor":"#555","padding":5,"labelFontSize":7,"symbolType":"M-1,0H7.57","symbolSize":49,"symbolStrokeWidth":1.4,"labelOffset":28,"rowPadding":4}},
"strokeDash":{"field":"curve","type":"nominal","scale":{"domain":["DSA Standard Care","Non-DSA Standard Care","HLA Neg Standard Care","DSA Biomarker Led Care","Non-DSA Biomarker Led Care","HLA Neg Biomarker Led Care"],"range":[[6,3],[6,3],[6,3],[1,0],[1,0],[1,0]]},"legend":{"title":null,"orient":"none","legendX":10.5,"legendY":170,"columns":2,"columnPadding":17,"strokeColor":"#555","padding":5,"labelFontSize":7,"symbolType":"M-1,0H7.57","symbolSize":49,"symbolStrokeWidth":1.4,"labelOffset":28,"rowPadding":4}}},
"layer":[
{"data":{"name":"dsa"},"mark":{"type":"line","interpolate":"step-after","strokeWidth":1.8,"opacity":0.8}},
{"data":{"name":"nondsa"},"mark":{"type":"line","interpolate":"step-after","strokeWidth":1.8,"opacity":0.8}},
{"data":{"name":"hla"},"mark":{"type":"line","interpolate":"step-after","strokeWidth":1.8,"opacity":0.8}}]}]}
],"spacing":10,"center":false}
]
}
